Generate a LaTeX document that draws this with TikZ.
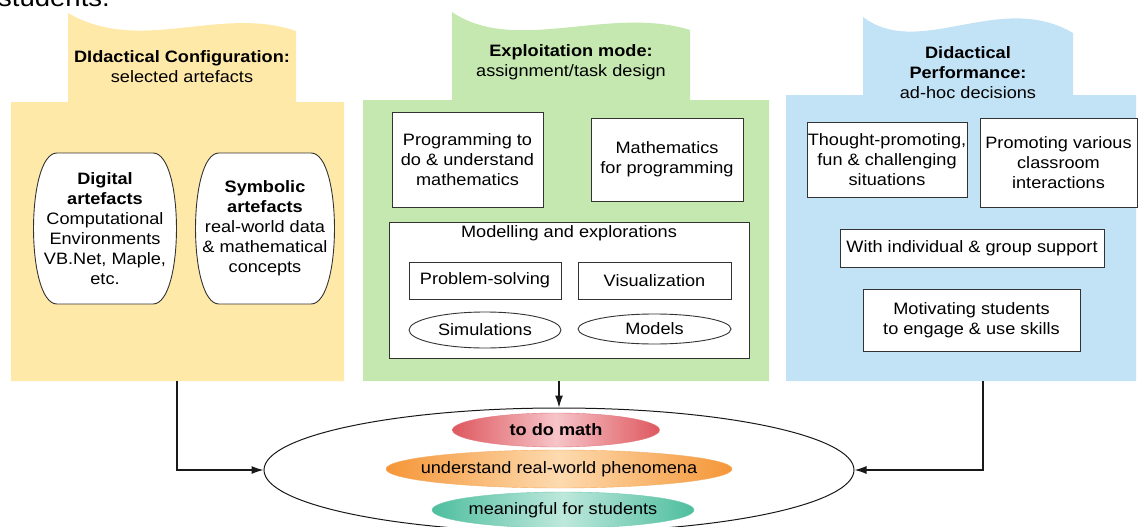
\documentclass[tikz,border=0pt]{standalone}
\usepackage{fontspec}
\setmainfont{Liberation Sans}[FakeStretch=1.1]
\usetikzlibrary{arrows.meta, shapes.geometric}
\definecolor{cfgyellow}{RGB}{255,233,168}
\definecolor{expgreen}{RGB}{197,232,176}
\definecolor{perfblue}{RGB}{194,226,245}
\definecolor{mathred}{RGB}{222,88,95}
\definecolor{mathredlight}{RGB}{246,196,200}
\definecolor{worldorange}{RGB}{245,150,55}
\definecolor{worldorangelight}{RGB}{253,218,175}
\definecolor{meanteal}{RGB}{78,190,158}
\definecolor{meantealight}{RGB}{190,232,220}
\newcommand{\figfont}{\fontsize{16.5pt}{20pt}\selectfont}

\tikzset{
  headtext/.style={align=center, font=\figfont, inner sep=0pt},
  plainbox/.style={draw=black!80, fill=white, line width=0.9pt, align=center,
    inner sep=0pt, font=\figfont},
  ovalbox/.style={ellipse, draw=black!80, fill=white, line width=0.9pt,
    inner sep=0pt, font=\figfont},
  artline/.style={fill=white, draw=black!80, line width=0.9pt},
  artefact/.style={inner sep=0pt, align=center, font=\figfont},
  goalblob/.style={ellipse, inner sep=0pt, font=\figfont},
  flowarrow/.style={-{Latex[length=12pt,width=8pt]}, line width=1.1pt, black!90}
}

\begin{document}
\begin{tikzpicture}[x=1pt, y=-1pt]
  \useasboundingbox (0,0) rectangle (1138,527);

  \node[anchor=base west, inner sep=0pt, font=\fontsize{25pt}{30pt}\selectfont]
    (stud) at (-2,7) {students.};

  % the three panels
  \fill[cfgyellow] (11,381) -- (11,102) -- (68,102) -- (68,13)
    .. controls (140,55) and (220,5) .. (296,31) -- (296,102) -- (344,102)
    -- (344,381) -- cycle;
  \fill[expgreen] (363,381) -- (363,100) -- (452,100) -- (452,12)
    .. controls (515,55) and (610,5) .. (690,30) -- (690,100) -- (769,100)
    -- (769,381) -- cycle;
  \fill[perfblue] (786,381) -- (786,95) -- (863,95) -- (863,17)
    .. controls (920,60) and (1000,-10) .. (1073,33) -- (1073,95) -- (1136,95)
    -- (1136,381) -- cycle;

  \node[headtext] (cfghead) at (182,67)
    {\textbf{DIdactical Configuration:}\\selected artefacts};
  \node[headtext] (exphead) at (571,62)
    {\textbf{Exploitation mode:}\\assignment/task design};
  \node[headtext] (perfhead) at (968,73)
    {\textbf{Didactical}\\\textbf{Performance:}\\ad-hoc decisions};

  % configuration: bulging outlines, then their texts
  \path[artline] (57,153) -- (153,153)
    .. controls (184.3,153) and (184.3,304) .. (153,304) -- (57,304)
    .. controls (25.7,304) and (25.7,153) .. (57,153) -- cycle;
  \path[artline] (219,153) -- (311,153)
    .. controls (342.3,153) and (342.3,304) .. (311,304) -- (219,304)
    .. controls (187.7,304) and (187.7,153) .. (219,153) -- cycle;
  \node[artefact] (digital) at (105,228.5)
    {\textbf{Digital}\\\textbf{artefacts}\\Computational\\Environments\\VB.Net, Maple,\\etc.};
  \node[artefact] (symbolic) at (265,228.5)
    {\textbf{Symbolic}\\\textbf{artefacts}\\real-world data\\\& mathematical\\concepts};

  % exploitation mode
  \node[plainbox, minimum width=151pt, minimum height=95pt] (progmath) at (467.5,159.5)
    {Programming to\\do \& understand\\mathematics};
  \node[plainbox, minimum width=152pt, minimum height=83pt] (mathprog) at (667,159.5)
    {Mathematics\\for programming};
  \node[plainbox, minimum width=360pt, minimum height=136pt] (modexp) at (569,290) {};
  \node[headtext] (modtitle) at (569,233) {Modelling and explorations};
  \node[plainbox, minimum width=152pt, minimum height=37pt] (probsolve) at (485,280.5)
    {Problem-solving};
  \node[plainbox, minimum width=153pt, minimum height=37pt] (visual) at (654.5,280.5)
    {Visualization};
  \node[ovalbox, minimum width=152pt, minimum height=36pt] (simul) at (485,330)
    {Simulations};
  \node[ovalbox, minimum width=153pt, minimum height=30pt] (models) at (654.5,329)
    {Models};

  % performance
  \node[plainbox, minimum width=160pt, minimum height=75pt] (thought) at (887,159.5)
    {Thought-promoting,\\fun \& challenging\\situations};
  \node[plainbox, minimum width=157pt, minimum height=89pt] (interact) at (1058.5,162.5)
    {Promoting various\\classroom\\interactions};
  \node[plainbox, minimum width=264pt, minimum height=38pt] (support) at (972,248)
    {With individual \& group support};
  \node[plainbox, minimum width=217pt, minimum height=62pt] (motivate) at (971.5,320)
    {Motivating students\\to engage \& use skills};

  % goals
  \node[ellipse, draw=black!90, line width=1pt, fill=white,
        minimum width=590pt, minimum height=124pt] (goal) at (559,470) {};
  \node[goalblob, draw=mathred!80, left color=mathred, right color=mathred,
        middle color=mathredlight, minimum width=207pt, minimum height=34pt]
    (domath) at (556,430) {\makebox[0pt]{\textbf{to do math}}};
  \node[goalblob, draw=worldorange!80, left color=worldorange, right color=worldorange,
        middle color=worldorangelight, minimum width=346pt, minimum height=38pt]
    (realworld) at (559,469) {\makebox[0pt]{understand real-world phenomena}};
  \node[goalblob, draw=meanteal!80, left color=meanteal, right color=meanteal,
        middle color=meantealight, minimum width=262pt, minimum height=36pt]
    (meaning) at (563,510) {\makebox[0pt]{meaningful for students}};

  \coordinate (cfgout) at (177,381);
  \coordinate (expout) at (559,381);
  \coordinate (perfout) at (983,381);
  \draw[flowarrow] (cfgout) |- (goal.west);
  \draw[flowarrow] (expout) -- (goal.north);
  \draw[flowarrow] (perfout) |- (goal.east);
\end{tikzpicture}
\end{document}
